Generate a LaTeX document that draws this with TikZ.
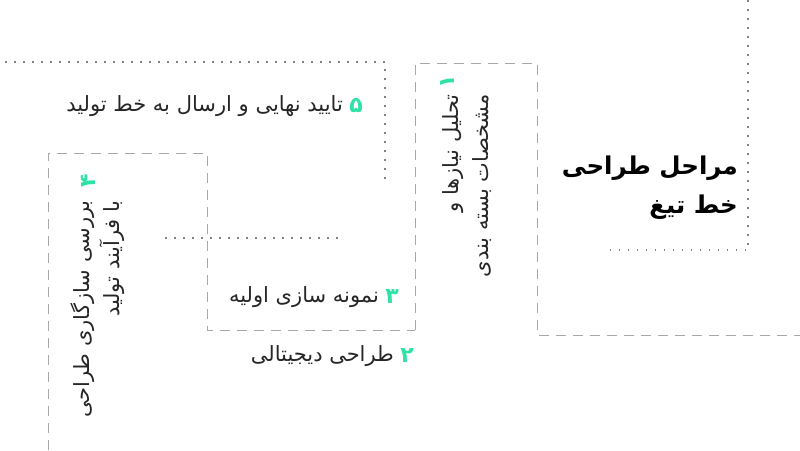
\documentclass[tikz,border=0pt]{standalone}
\usepackage{fontspec}
\usetikzlibrary{positioning}
\TeXXeTstate=1
\newfontfamily\arabicfont[Script=Arabic]{DejaVu Sans}
\definecolor{mint}{RGB}{46,226,166}
\definecolor{linegray}{RGB}{130,130,130}

\begin{document}
\begin{tikzpicture}[x=1pt, y=-1pt,
    dots/.style = {linegray, line width=1.5pt, dash pattern=on 1.5pt off 7.5pt},
    dashes/.style = {linegray!70, line width=0.9pt, dash pattern=on 10pt off 7pt},
    num/.style = {font=\arabicfont\bfseries\fontsize{22}{22}\selectfont, text=mint, inner sep=0pt},
    steptext/.style = {font=\arabicfont\fontsize{21}{30}\selectfont, text=black!85, inner sep=0pt, align=right}
  ]
    \useasboundingbox (0,0) rectangle (800,450);

    % frame lines
    \draw[dots] (748,0) -- (748,250) -- (603,250);
    \draw[dots] (5,62) -- (385,62) -- (385,180);
    \draw[dots] (165,238) -- (340,238);
    \draw[dashes] (415,330) -- (415,63) -- (537,63) -- (537,335) -- (800,335);
    \draw[dashes] (48,450) -- (48,153) -- (207,153) -- (207,330) -- (415,330);

    % title
    \node[anchor=east, align=right, inner sep=0pt,
      font=\arabicfont\bfseries\fontsize{24.5}{39}\selectfont] (title) at (738,188)
      {\beginR مراحل طراحی\endR\\\beginR خط تیغ\endR};

    % step 1
    \node[num, rotate=90] (n1) at (448,82) {\beginR ۱\endR};
    \node[steptext, rotate=90, anchor=north east] (t1) at (442,94)
      {\beginR تحلیل نیازها و\endR\\\beginR مشخصات بسته بندی\endR};

    % step 2
    \node[num] (n2) at (407,356) {\beginR ۲\endR};
    \node[steptext, left=6pt of n2] (t2) {\beginR طراحی دیجیتالی\endR};

    % step 3
    \node[num] (n3) at (392,297) {\beginR ۳\endR};
    \node[steptext, left=6pt of n3] (t3) {\beginR نمونه سازی اولیه\endR};

    % step 4
    \node[num, rotate=90] (n4) at (88,181) {\beginR ۴\endR};
    \node[steptext, rotate=90, anchor=north east] (t4) at (70,200)
      {\beginR بررسی سازگاری طراحی\endR\\\beginR با فرآیند تولید\endR};

    % step 5
    \node[num] (n5) at (356,106) {\beginR ۵\endR};
    \node[steptext, left=6pt of n5] (t5) {\beginR تایید نهایی و ارسال به خط تولید\endR};
  \end{tikzpicture}
\end{document}
